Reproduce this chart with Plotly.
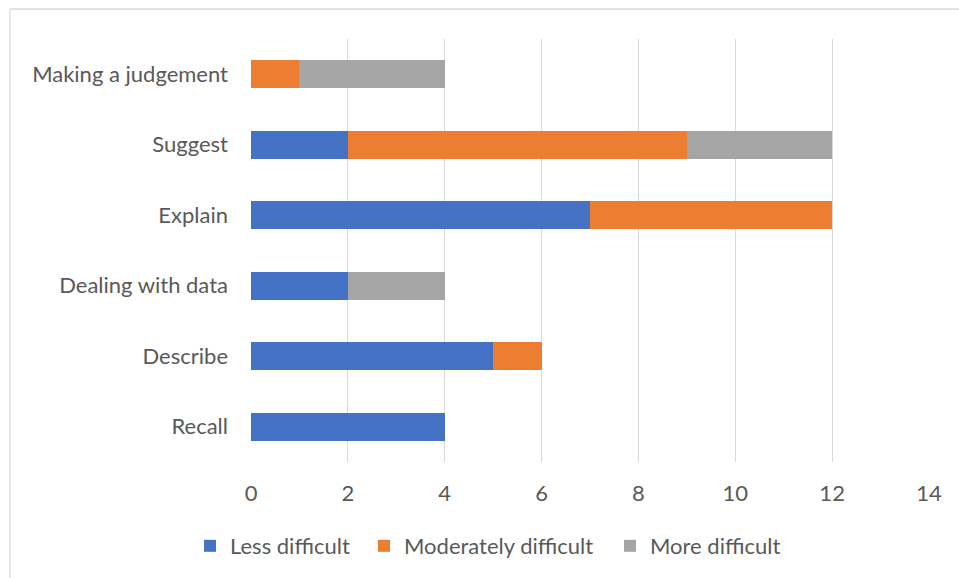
import plotly.graph_objects as go

# Question types, listed bottom to top
categories = ["Recall", "Describe", "Dealing with data", "Explain", "Suggest", "Making a judgement"]

less_difficult = [4, 5, 2, 7, 2, 0]
moderately_difficult = [0, 1, 0, 5, 7, 1]
more_difficult = [0, 0, 2, 0, 3, 3]

x_ticks = [0, 2, 4, 6, 8, 10, 12, 14]

series = [
    ("Less difficult", less_difficult, "#4472C4", "legend", 190),
    ("Moderately difficult", moderately_difficult, "#ED7D31", "legend2", 364),
    ("More difficult", more_difficult, "#A5A5A5", "legend3", 610),
]

W, H = 959, 578
L, R, T, B = 251, 30, 39, 116
pw, ph = W - L - R, H - T - B

font = "Lato, Carlito, Calibri, sans-serif"
grey = "#595959"

fig = go.Figure()
legends = {}
for name, vals, color, leg, lx in series:
    fig.add_trace(go.Bar(
        y=categories, x=vals, name=name, orientation="h", legend=leg,
        marker=dict(color=color, line=dict(width=0)),
    ))
    legends[leg] = dict(orientation="h", xref="container", yref="container",
                        x=lx / W, xanchor="left", y=1 - 546 / H, yanchor="middle",
                        font=dict(size=22, color=grey, family=font), itemwidth=30,
                        bgcolor="rgba(0,0,0,0)")

# light frame around the chart (top and left edges visible)
bx = (10 - L) / pw
by = (H - B - 9) / ph
fig.add_shape(type="line", xref="paper", yref="paper", x0=bx, y0=by, x1=(W + 5 - L) / pw, y1=by,
              line=dict(color="#D9D9D9", width=1.3))
fig.add_shape(type="line", xref="paper", yref="paper", x0=bx, y0=by, x1=bx, y1=(-B - 5) / ph,
              line=dict(color="#D9D9D9", width=1.3))

fig.update_layout(
    width=W, height=H,
    margin=dict(l=L, r=R, t=T, b=B),
    barmode="stack", bargap=0.6,
    paper_bgcolor="white", plot_bgcolor="white",
    font=dict(family=font, size=22, color=grey),
    xaxis=dict(range=[0, 14], tickvals=x_ticks, showgrid=True, gridcolor="#D9D9D9", gridwidth=1.3,
               zeroline=False, showline=False, ticks="", ticklabelstandoff=16,
               tickfont=dict(size=22, color=grey)),
    yaxis=dict(showgrid=False, zeroline=False, showline=False, ticks="", ticklabelstandoff=22,
               tickfont=dict(size=22, color=grey)),
    showlegend=True,
    **legends,
)

fig.write_html("out.html")
